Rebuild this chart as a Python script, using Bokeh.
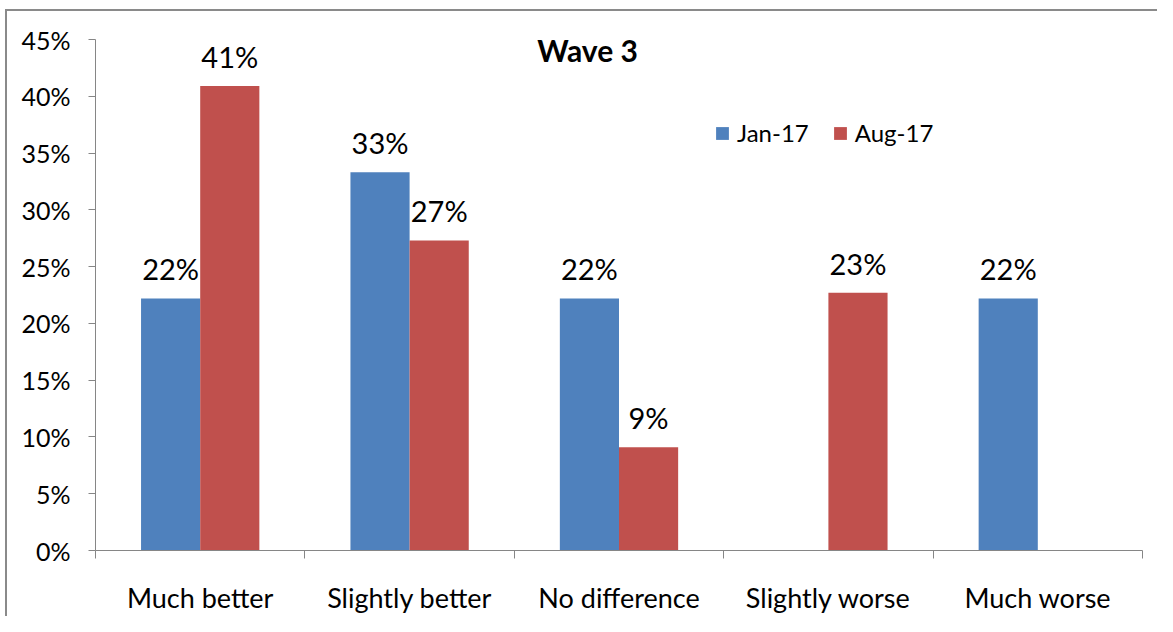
from bokeh.plotting import figure
from bokeh.models import (ColumnDataSource, FixedTicker, PrintfTickFormatter,
                          Label, Range1d, Legend, LegendItem)
from bokeh.embed import file_html
from bokeh.resources import INLINE
from bokeh.core.properties import value

categories = ["Much better", "Slightly better", "No difference", "Slightly worse", "Much worse"]
series_names = ["Jan-17", "Aug-17"]
jan17 = [22.2, 33.3, 22.2, 0.0, 22.2]
aug17 = [40.9, 27.3, 9.1, 22.7, 0.0]
y_ticks = [0, 5, 10, 15, 20, 25, 30, 35, 40, 45]
title_text = "Wave 3"

BLUE = "#4F81BD"
RED = "#C0504D"
AXIS = "#868686"
FONT = "Lato"

bar_w = 0.2825
n = len(categories)
centers = [i + 0.5 for i in range(n)]

p = figure(width=1157, height=616, output_backend="svg", toolbar_location=None,
           x_range=Range1d(0, n), y_range=Range1d(0, 45),
           min_border_left=95, min_border_right=15, min_border_top=39, min_border_bottom=58)
p.outline_line_color = None
p.xgrid.grid_line_color = None
p.ygrid.grid_line_color = None
p.background_fill_color = "white"
p.border_fill_color = None
p.styles = {
    "background": ("linear-gradient(#8a8a8a,#8a8a8a) 5px 9px / 2px 100% no-repeat, "
                   "linear-gradient(#8a8a8a,#8a8a8a) 5px 9px / 100% 2px no-repeat, white")
}

renderers = []
for s, (vals, color, sign) in enumerate([(jan17, BLUE, -1), (aug17, RED, 1)]):
    xs = [c + sign * bar_w / 2 for c in centers]
    src = ColumnDataSource(dict(x=xs, top=vals))
    r = p.vbar(x="x", top="top", width=bar_w, bottom=0, source=src,
               fill_color=color, line_color=None)
    renderers.append(r)
    lx = [x for x, v in zip(xs, vals) if v > 0]
    ly = [v for v in vals if v > 0]
    lt = ["%d%%" % round(v) for v in vals if v > 0]
    lsrc = ColumnDataSource(dict(x=lx, y=ly, t=lt))
    p.text(x="x", y="y", text="t", source=lsrc, text_align="center",
           text_baseline="bottom", y_offset=-12, text_font=value(FONT),
           text_font_size="29px", text_color="black")

# axes
xa = p.xaxis[0]
xa.ticker = FixedTicker(ticks=centers, minor_ticks=list(range(n + 1)))
xa.major_label_overrides = {c: cat for c, cat in zip(centers, categories)}
xa.major_tick_line_color = None
xa.major_tick_in = 0
xa.major_tick_out = 0
xa.minor_tick_in = 0
xa.minor_tick_out = 8
xa.minor_tick_line_color = AXIS
xa.axis_line_color = AXIS
xa.major_label_text_font = FONT
xa.major_label_text_font_size = "27px"
xa.major_label_text_color = "black"
xa.major_label_standoff = 22

ya = p.yaxis[0]
ya.ticker = FixedTicker(ticks=y_ticks)
ya.formatter = PrintfTickFormatter(format="%d%%")
ya.minor_tick_line_color = None
ya.major_tick_in = 0
ya.major_tick_out = 7
ya.major_tick_line_color = AXIS
ya.axis_line_color = AXIS
ya.major_label_text_font = FONT
ya.major_label_text_font_size = "25px"
ya.major_label_text_color = "black"
ya.major_label_standoff = 18

# title inside plot
p.add_layout(Label(x=2.35, y=44.1, text=title_text, text_align="center",
                   text_baseline="middle", text_font=FONT, text_font_size="30px",
                   text_font_style="bold", text_color="black"))

legend = Legend(items=[LegendItem(label=series_names[0], renderers=[renderers[0]]),
                       LegendItem(label=series_names[1], renderers=[renderers[1]])],
                orientation="horizontal", location=(619, 403))
legend.glyph_width = 16
legend.glyph_height = 16
legend.label_standoff = 7
legend.spacing = 23
legend.padding = 0
legend.margin = 0
legend.border_line_color = None
legend.background_fill_alpha = 0
legend.label_text_font = FONT
legend.label_text_font_size = "24px"
legend.label_text_color = "black"
p.add_layout(legend, "center")

open("out.html", "w").write(file_html(p, INLINE))
